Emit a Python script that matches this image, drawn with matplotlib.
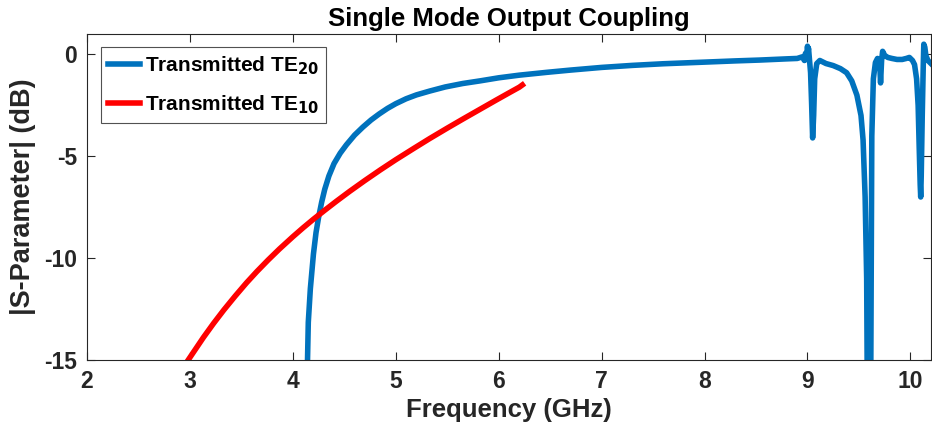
import matplotlib.pyplot as plt

# read-off values (GHz, dB)
f_te20 = [4.14, 4.15, 4.17, 4.2, 4.225, 4.25, 4.28, 4.31, 4.35, 4.4, 4.46, 4.52, 4.6, 4.68, 4.76, 4.84,
          4.92, 5.0, 5.1, 5.2, 5.33, 5.48, 5.65, 5.82, 6.0, 6.2, 6.47, 6.7, 7.0, 7.3, 7.6, 8.0, 8.3, 8.53,
          8.8, 8.9, 8.95, 8.97, 8.98, 8.99, 9.0, 9.005, 9.01, 9.02, 9.03, 9.04, 9.05, 9.06, 9.07, 9.09,
          9.12, 9.18, 9.25, 9.32, 9.38, 9.43, 9.48, 9.52, 9.54, 9.56, 9.575, 9.58, 9.6, 9.615, 9.625,
          9.64, 9.66, 9.68, 9.70, 9.71, 9.72, 9.73, 9.75, 9.78, 9.82, 9.87, 9.92, 9.96, 9.99, 10.02, 10.04,
          10.06, 10.075, 10.085, 10.095, 10.1, 10.105, 10.115, 10.125, 10.13, 10.14, 10.15, 10.17, 10.2]
s_te20 = [-15.6, -13.15, -11.5, -9.8, -8.75, -8.0, -7.25, -6.62, -5.97, -5.36, -4.85, -4.44, -3.96, -3.57, -3.22, -2.92,
          -2.65, -2.42, -2.18, -1.99, -1.8, -1.6, -1.43, -1.3, -1.15, -1.02, -0.88, -0.77, -0.64, -0.54, -0.46, -0.38, -0.32, -0.28,
          -0.22, -0.2, -0.12, -0.3, 0.05, -0.25, 0.4, 0.1, 0.3, -0.3, -0.9, -2.4, -4.1, -3.0, -1.2, -0.45,
          -0.3, -0.45, -0.55, -0.7, -0.9, -1.3, -2.0, -3.0, -4.2, -7.0, -11.0, -15.6, -15.8, -15.6, -4.0,
          -1.2, -0.4, -0.2, -0.25, -1.4, -0.3, 0.15, -0.05, -0.15, -0.2, -0.25, -0.25, -0.2, -0.15, -0.3, -0.5,
          -1.2, -2.5, -4.5, -6.4, -7.0, -6.0, -3.0, -0.5, 0.5, 0.35, -0.05, -0.3, -0.45]

f_te10 = [2.97, 3.05, 3.13, 3.23, 3.33, 3.44, 3.55, 3.65, 3.76, 3.87, 4.0, 4.1, 4.2, 4.31, 4.42, 4.55,
          4.7, 4.85, 5.0, 5.17, 5.33, 5.5, 5.65, 5.82, 5.98, 6.1, 6.2, 6.23]
s_te10 = [-15.1, -14.5, -13.9, -13.2, -12.54, -11.86, -11.21, -10.66, -10.09, -9.55, -8.95, -8.51, -8.09, -7.65, -7.22, -6.73,
          -6.19, -5.67, -5.17, -4.63, -4.13, -3.62, -3.18, -2.69, -2.23, -1.89, -1.61, -1.5]

labels = ['Transmitted TE$_{20}$', 'Transmitted TE$_{10}$']
xticks = [2, 3, 4, 5, 6, 7, 8, 9, 10]
yticks = [-15, -10, -5, 0]

plt.rcParams['font.family'] = ['Liberation Sans', 'DejaVu Sans']
plt.rcParams['font.weight'] = 'bold'
plt.rcParams['mathtext.default'] = 'bf'
plt.rcParams['axes.unicode_minus'] = False

dark = '#262626'

fig = plt.figure(figsize=(9.32, 4.38), dpi=100)
ax = fig.add_axes([87/932, 78/438, 844/932, 326/438])

ax.plot(f_te20, s_te20, color='#0072BD', lw=4.0, label=labels[0], solid_joinstyle='round')
ax.plot(f_te10, s_te10, color='#FF0000', lw=4.0, label=labels[1], solid_joinstyle='round')

ax.set_xlim(2, 10.2)
ax.set_ylim(-15, 1)
ax.set_xticks(xticks)
ax.set_yticks(yticks)
ax.tick_params(direction='in', top=True, right=True, labelsize=16.5, colors=dark, length=6, width=0.8, pad=7)
for lab in ax.get_xticklabels() + ax.get_yticklabels():
    lab.set_fontweight('bold')
for s in ax.spines.values():
    s.set_color(dark)
    s.set_linewidth(0.8)

ax.set_title('Single Mode Output Coupling', fontsize=18.5, fontweight='bold', color='black', pad=6)
ax.set_xlabel('Frequency (GHz)', fontsize=18.5, fontweight='bold', color=dark, labelpad=4)
ax.set_ylabel('|S-Parameter| (dB)', fontsize=19.5, fontweight='bold', color=dark, labelpad=6)

leg = ax.legend(loc='upper left', bbox_to_anchor=(0.0166, 0.96), borderaxespad=0, frameon=True,
                fancybox=False, edgecolor=dark, handlelength=1.5, borderpad=0.35, labelspacing=0.8,
                handletextpad=0.25, prop={'weight': 'bold', 'size': 15})
leg.get_frame().set_linewidth(0.8)

fig.savefig('out.png', dpi=100)
